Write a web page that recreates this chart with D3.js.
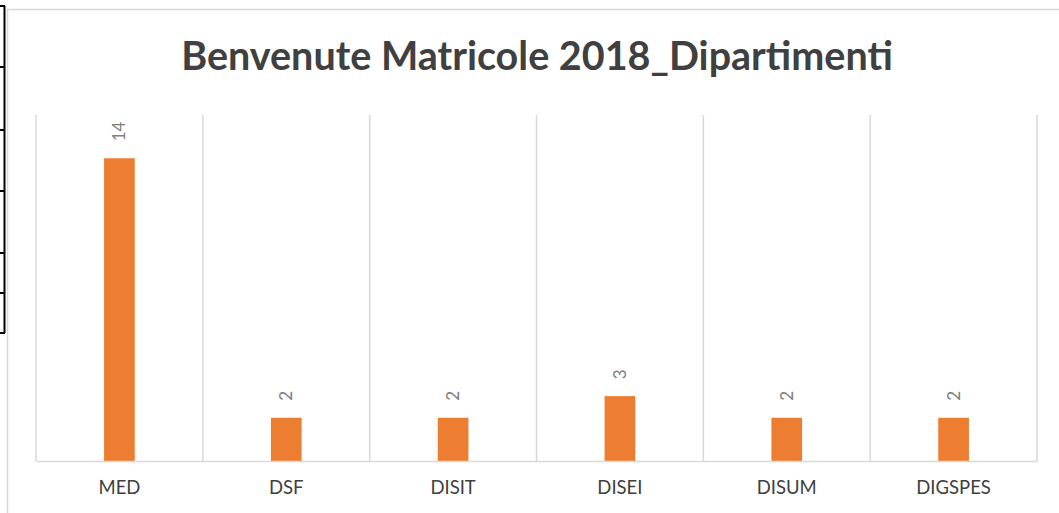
<!DOCTYPE html>
<html>
<head>
<meta charset="utf-8">
<script src="https://cdn.jsdelivr.net/npm/d3@7"></script>
<style>
  body { margin: 0; background: #fff; }
  svg { display: block; }
</style>
</head>
<body>
<script>
// data
const categories = ["MED", "DSF", "DISIT", "DISEI", "DISUM", "DIGSPES"];
const values = [14, 2, 2, 3, 2, 2];
const yMax = 16;

const title = "Benvenute Matricole 2018_Dipartimenti";

var width = 1059, height = 513;

var svg = d3.select("body").append("svg")
  .attr("width", width)
  .attr("height", height);

// bits of the spreadsheet grid showing on the left
var tableRows = [6, 67, 130, 191, 253, 293, 333];
svg.append("line")
  .attr("x1", 4.5).attr("x2", 4.5)
  .attr("y1", 6).attr("y2", 333)
  .attr("stroke", "#000").attr("stroke-width", 2);
svg.selectAll(".trow")
  .data(tableRows)
  .enter().append("line")
  .attr("class", "trow")
  .attr("x1", 0).attr("x2", 5)
  .attr("y1", function(d) { return d; })
  .attr("y2", function(d) { return d; })
  .attr("stroke", "#000").attr("stroke-width", 2);

// chart area border
svg.append("rect")
  .attr("x", 7.5).attr("y", 9.5)
  .attr("width", 1100).attr("height", 600)
  .attr("fill", "#fff")
  .attr("stroke", "#d9d9d9").attr("stroke-width", 1.5);

// scales
var x = d3.scaleBand()
  .domain(categories)
  .range([36, 1037])
  .padding(0);

var y = d3.scaleLinear()
  .domain([0, yMax])
  .range([461, 115]);

var barW = x.bandwidth() * 0.184;

// vertical gridlines at category boundaries
var bounds = categories.map(function(c) { return x(c); }).concat([x.range()[1]]);
svg.selectAll(".grid")
  .data(bounds)
  .enter().append("line")
  .attr("class", "grid")
  .attr("x1", function(d) { return d; })
  .attr("x2", function(d) { return d; })
  .attr("y1", y(yMax)).attr("y2", y(0))
  .attr("stroke", "#d9d9d9").attr("stroke-width", 1.5);

// bars
svg.selectAll(".bar")
  .data(values)
  .enter().append("rect")
  .attr("class", "bar")
  .attr("x", function(d, i) { return x(categories[i]) + x.bandwidth() / 2 - barW / 2; })
  .attr("y", function(d) { return y(d); })
  .attr("width", barW)
  .attr("height", function(d) { return y(0) - y(d); })
  .attr("fill", "#ED7D31");

// baseline / category axis
var xAxis = d3.axisBottom(x).tickSize(0).tickPadding(20);
var ax = svg.append("g")
  .attr("transform", "translate(0," + y(0) + ")")
  .call(xAxis);
ax.select(".domain").attr("stroke", "#d9d9d9").attr("stroke-width", 1.5);
ax.selectAll("text")
  .attr("fill", "#404040")
  .style("font-family", "Lato, 'Open Sans', sans-serif")
  .style("font-size", "18.5px");

// value labels, rotated
svg.selectAll(".vlabel")
  .data(values)
  .enter().append("text")
  .attr("class", "vlabel")
  .attr("transform", function(d, i) {
    var cx = x(categories[i]) + x.bandwidth() / 2;
    return "translate(" + (cx + 6) + "," + (y(d) - 17) + ") rotate(-90)";
  })
  .attr("text-anchor", "start")
  .attr("fill", "#808080")
  .style("font-family", "Lato, 'Open Sans', sans-serif")
  .style("font-size", "17px")
  .text(function(d) { return d; });

// title
svg.append("text")
  .attr("x", 537)
  .attr("y", 70)
  .attr("text-anchor", "middle")
  .attr("fill", "#404040")
  .style("font-family", "Lato, 'Open Sans', sans-serif")
  .style("font-weight", "bold")
  .style("font-size", "39.5px")
  .text(title);
</script>
</body>
</html>
